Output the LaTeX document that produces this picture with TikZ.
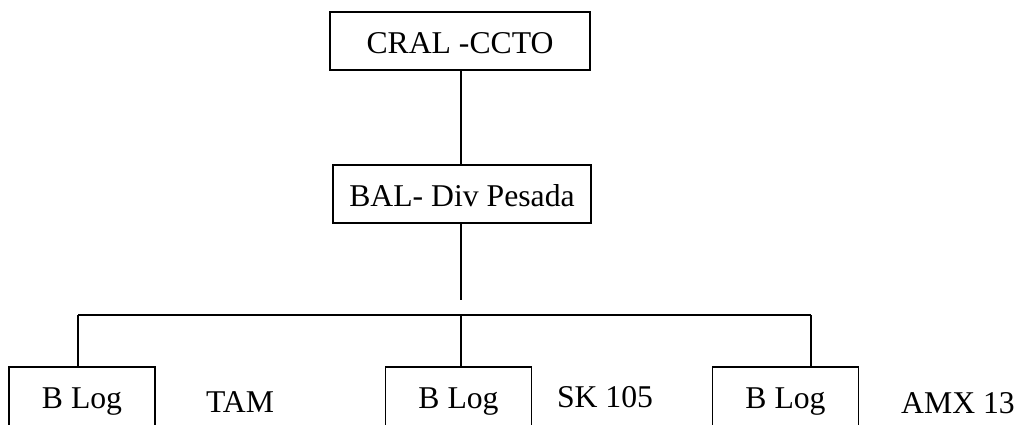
\documentclass[tikz,border=0pt]{standalone}
\usepackage{fontspec}
\setmainfont{Liberation Serif}
\begin{document}
\begin{tikzpicture}[x=0.5pt,y=-0.5pt,
  line width=0.8pt,
  orgbox/.style={draw, inner sep=0pt, minimum height=29pt,
    text height=12pt, text depth=0pt,
    font=\fontsize{15.85}{19}\selectfont},
  unitbox/.style={orgbox, minimum width=73pt, minimum height=32pt, text height=9pt},
  tag/.style={anchor=base, inner sep=0pt, font=\fontsize{15.85}{19}\selectfont}]
  \path[use as bounding box, clip] (0,0) rectangle (1020,424);

  % command levels
  \node[orgbox, minimum width=130pt] (cral) at (460,41) {CRAL -CCTO};
  \node[orgbox, minimum width=129pt] (bal) at (462,194) {BAL- Div Pesada};

  % logistic battalions
  \node[unitbox] (b1) at (82,399) {B Log};
  \node[unitbox] (b2) at (458.5,399) {B Log};
  \node[unitbox] (b3) at (785.5,399) {B Log};

  % vehicle types
  \node[tag] (tam) at (240,412) {TAM};
  \node[tag] (sk) at (605,407) {SK 105};
  \node[tag] (amx) at (958,413) {AMX 13};

  % branching points
  \coordinate (stem) at (460.7,300);
  \coordinate (j1) at (78,315);
  \coordinate (j2) at (460.7,315);
  \coordinate (j3) at (810.7,315);

  \draw (cral.south -| stem) -- (bal.north -| stem);
  \draw (bal.south -| stem) -- (stem);
  \draw (j1) -- (j3);
  \draw (j1) -- (j1 |- b1.north);
  \draw (j2) -- (j2 |- b2.north);
  \draw (j3) -- (j3 |- b3.north);
\end{tikzpicture}
\end{document}
